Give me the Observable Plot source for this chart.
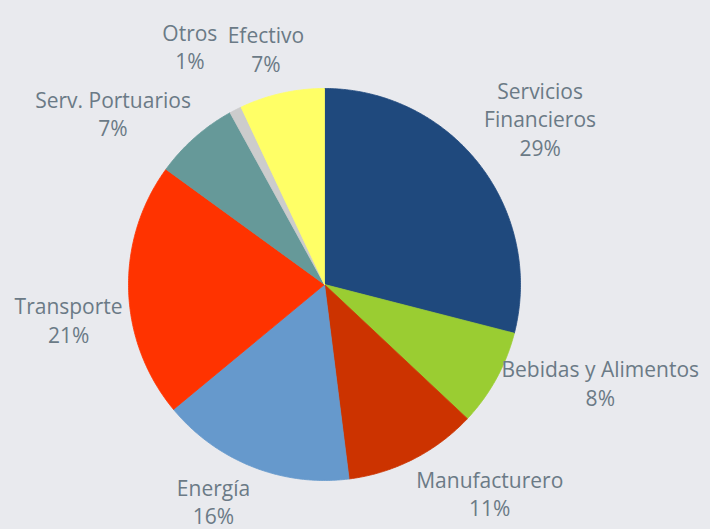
<!DOCTYPE html>
<html>
<head>
<meta charset="utf-8">
<script src="https://cdn.jsdelivr.net/npm/d3@7"></script>
<script src="https://cdn.jsdelivr.net/npm/@observablehq/plot@0.6"></script>
<style>
  html, body { margin: 0; padding: 0; background: #e9eaee; }
  #chart { width: 710px; height: 529px; }
</style>
</head>
<body>
<div id="chart"></div>
<script>
// ---- data ----
const categories = ["Servicios Financieros", "Bebidas y Alimentos", "Manufacturero", "Energía", "Transporte", "Serv. Portuarios", "Otros", "Efectivo"];
const labelNames = ["Servicios\nFinancieros", "Bebidas y Alimentos", "Manufacturero", "Energía", "Transporte", "Serv. Portuarios", "Otros", "Efectivo"];
const shares = [29, 8, 11, 16, 21, 7, 1, 7];
const sliceColors = ["#1f497d", "#9acd32", "#cc3300", "#6699cc", "#ff3300", "#669999", "#cccccc", "#ffff66"];

// ---- layout ----
const W = 710, H = 529;
const cx = 324, cy = 284, R = 196;
const fontSize = 21, lineH = 28.5;
const fontFamily = "'Open Sans', sans-serif";
const textColor = "#6b7a86";

const arcs = d3.pie().sort(null).startAngle(0).endAngle(2 * Math.PI)(shares);

// polygon points for each slice (unit circle coordinates)
const slicePts = [];
arcs.forEach((a, i) => {
  const name = categories[i];
  slicePts.push({name, x: 0, y: 0});
  const steps = Math.max(2, Math.ceil((a.endAngle - a.startAngle) / (Math.PI / 360)));
  for (let k = 0; k <= steps; k++) {
    const t = a.startAngle + (a.endAngle - a.startAngle) * k / steps;
    slicePts.push({name, x: Math.sin(t), y: Math.cos(t)});
  }
  slicePts.push({name, x: 0, y: 0});
});

// label placement: box corner rests on the rim, simple collision avoidance
const ctx = document.createElement("canvas").getContext("2d");
ctx.font = `${fontSize}px ${fontFamily}`;
const gap = 6, kx = 3, ky = 2, phi = 28 * Math.PI / 180, pad = 10;
const clamp = v => Math.max(-1, Math.min(1, v));
const placed = [];
const hit = (a, b) => a.x0 - pad < b.x1 && b.x0 - pad < a.x1 && a.y0 - pad < b.y1 && b.y0 - pad < a.y1;
const boxAt = (x, y, w, h) => ({x, y, w, h, x0: x - w / 2, x1: x + w / 2, y0: y - h / 2, y1: y + h / 2});
const labels = arcs.map((a, i) => {
  const text = `${labelNames[i]}\n${shares[i]}%`;
  const lines = text.split("\n");
  const w = Math.max(...lines.map(l => ctx.measureText(l).width));
  const h = lines.length * lineH;
  const th = (a.startAngle + a.endAngle) / 2;
  const s = Math.sin(th), c = Math.cos(th);
  const px = cx + (R + gap) * s, py = cy - (R + gap) * c;
  let box = boxAt(px + clamp(s * kx) * w / 2, py + clamp(-Math.cos(th - phi) * ky) * h / 2, w, h);
  const obstacle = placed.find(p => hit(p, box));
  if (obstacle) {
    const tryDir = (dx, dy, maxT) => {
      for (let t = 1; t <= maxT; t++) {
        const b = boxAt(box.x + dx * t, box.y + dy * t, w, h);
        if (!placed.some(p => hit(p, b))) return b;
      }
      return null;
    };
    let b = tryDir(s, -c, 40);
    if (!b) {
      let ax = box.x - obstacle.x, ay = box.y - obstacle.y;
      const n = Math.hypot(ax, ay) || 1;
      let dx = ax / n + s, dy = ay / n - c;
      const m = Math.hypot(dx, dy) || 1;
      b = tryDir(dx / m, dy / m, 200);
    }
    if (b) box = b;
  }
  placed.push(box);
  return {text, x: (box.x - cx) / R, y: (cy - box.y) / R};
});

const chart = Plot.plot({
  width: W,
  height: H,
  margin: 0,
  style: {background: "#e9eaee", fontFamily, overflow: "visible"},
  x: {domain: [-cx / R, (W - cx) / R], axis: null},
  y: {domain: [-(H - cy) / R, cy / R], axis: null},
  color: {domain: categories, range: sliceColors},
  marks: [
    Plot.line(slicePts, {x: "x", y: "y", z: "name", fill: "name", stroke: "name", strokeWidth: 0.8, curve: "linear"}),
    Plot.text(labels, {x: "x", y: "y", text: "text", fill: textColor, fontSize, lineHeight: lineH / fontSize, textAnchor: "middle", lineAnchor: "middle"})
  ]
});
document.getElementById("chart").append(chart);
</script>
</body>
</html>
